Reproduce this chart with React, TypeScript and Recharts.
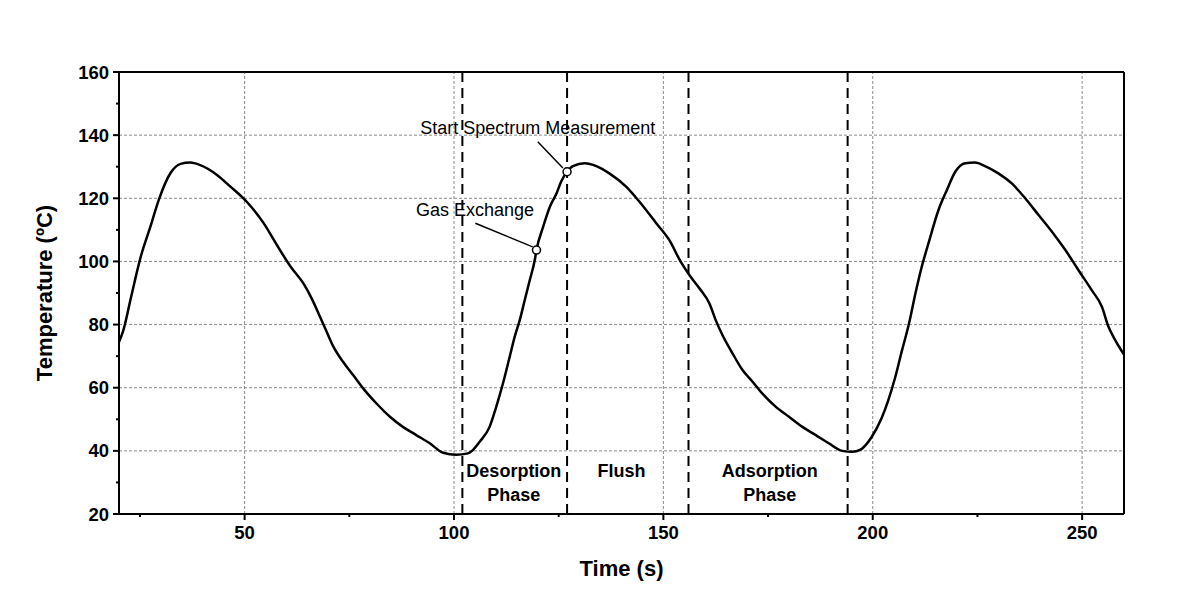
import React from 'react';
import { ComposedChart, Line, XAxis, YAxis, ReferenceLine, ReferenceDot } from 'recharts';

const timeS = [
  20, 21, 22.9, 25.2, 27.5, 29.5, 32.3, 34.7, 37, 39.4, 43.4, 46.6, 50.5, 54.5, 57.7, 61, 64, 66, 68,
  69.6, 71.2, 73.5, 75.9, 78.3, 81.5, 84.7, 87.8, 91, 94.2, 97.4, 100.5, 103.3, 104.3, 106.2, 108.5,
  110.1, 111.7, 113.3, 114.5, 115.7, 116.9, 118.1, 119.3, 119.7, 121.3, 122.9, 124.5, 125.6, 127,
  128.4, 131.2, 134, 137.1, 141.1, 144.3, 148.3, 151.4, 154.1, 156.2, 158.6, 161, 162.5, 164.1, 166.5,
  168.9, 171.3, 173.6, 176.8, 180, 183.2, 186.4, 189.5, 192.7, 195.1, 197.1, 199.7, 202.1, 203.7,
  205.3, 207, 208.6, 210.2, 211.7, 213.3, 215.7, 217.7, 219.7, 222.1, 224.4, 226.8, 230, 233.2,
  236.4, 239.6, 242.8, 246, 249.1, 252.3, 254.7, 256.3, 257.9, 260,
];
const temperatureC = [
  74.5, 78, 88.8, 101.5, 111, 119.5, 128, 130.9, 131.3, 130.5, 127.4, 123.7, 118.9, 112.2, 105.2, 98.3,
  93.1, 88.3, 82.5, 77.7, 73, 68.2, 64, 59.8, 55, 50.8, 47.6, 45, 42.4, 39.4, 38.8, 39.2, 40, 43, 47.6,
  54, 61.4, 69.8, 76.2, 81.4, 87.8, 94.1, 100.5, 103.6, 111, 117.3, 121.6, 125.3, 128.4, 130.2, 131.1,
  130.2, 127.9, 123.7, 118.9, 112.1, 106.8, 100, 95.7, 91.5, 86.7, 81.4, 76.7, 70.9, 65.6, 61.9, 58.2,
  54, 50.8, 47.6, 45, 42.4, 40, 39.7, 40.4, 44.3, 50.3, 56, 63, 71.9, 80, 89.9, 98.3, 105.7, 116.3,
  122.6, 128.4, 131.1, 131.3, 130.2, 127.9, 124.7, 120, 114.7, 109.4, 103.6, 97.3, 90.9, 85.7, 79.3,
  75.1, 70.5,
];

const xTicks = [25, 50, 75, 100, 125, 150, 175, 200, 225, 250];
const xMajorStep = 50;
const yTicks = [20, 30, 40, 50, 60, 70, 80, 90, 100, 110, 120, 130, 140, 150, 160];
const yMajorStep = 20;
const gridX = [50, 100, 150, 200, 250];
const gridY = [40, 60, 80, 100, 120, 140];
const phaseBoundaries = [102, 127, 156, 194];

const markerPoints = [
  { t: 119.7, temp: 103.6 },
  { t: 127, temp: 128.4 },
];
const leaderLines = [
  [{ x: 105.1, y: 112.1 }, { x: 118.8, y: 104.6 }],
  [{ x: 120.0, y: 137.9 }, { x: 126.0, y: 129.6 }],
];
const annotations = [
  { t: 105.0, temp: 116.3, text: 'Gas Exchange', bold: false },
  { t: 120.0, temp: 142.3, text: 'Start Spectrum Measurement', bold: false },
  { t: 114.3, temp: 33.6, text: 'Desorption', bold: true },
  { t: 114.3, temp: 26.0, text: 'Phase', bold: true },
  { t: 140.0, temp: 33.6, text: 'Flush', bold: true },
  { t: 175.4, temp: 33.6, text: 'Adsorption', bold: true },
  { t: 175.4, temp: 26.0, text: 'Phase', bold: true },
];

const data = timeS.map((t, i) => ({ t, temp: temperatureC[i] }));

const FONT = '"Liberation Sans", Arial, sans-serif';

const XTick = (props: any) => {
  const { x, y, payload } = props;
  const major = payload.value % xMajorStep === 0;
  return (
    <g>
      <line x1={x} y1={y} x2={x} y2={y + (major ? 6 : 3)} stroke="#000" strokeWidth={2} />
      {major && (
        <text x={x} y={y + 25} textAnchor="middle" fontFamily={FONT} fontWeight="bold" fontSize={18.5} fill="#000">
          {payload.value}
        </text>
      )}
    </g>
  );
};

const YTick = (props: any) => {
  const { x, y, payload } = props;
  const major = payload.value % yMajorStep === 0;
  return (
    <g>
      <line x1={x} y1={y} x2={x - (major ? 6 : 3)} y2={y} stroke="#000" strokeWidth={2} />
      {major && (
        <text x={x - 10} y={y + 6.5} textAnchor="end" fontFamily={FONT} fontWeight="bold" fontSize={18.5} fill="#000">
          {payload.value}
        </text>
      )}
    </g>
  );
};

export default function App() {
  return (
    <ComposedChart
      width={1175}
      height={600}
      data={data}
      margin={{ top: 64, right: 59, left: 31, bottom: 32 }}
      style={{ fontFamily: FONT }}
    >
      <XAxis
        dataKey="t"
        type="number"
        domain={[20, 260]}
        ticks={xTicks}
        interval={0}
        allowDataOverflow
        tickSize={0}
        tickMargin={0}
        tickLine={false}
        tick={(p: any) => <XTick {...p} />}
        axisLine={{ stroke: '#000', strokeWidth: 2 }}
        height={62}
        label={{
          value: 'Time (s)',
          position: 'insideBottom',
          offset: 0,
          fontFamily: FONT,
          fontWeight: 'bold',
          fontSize: 22,
          fill: '#000',
        }}
      />
      <YAxis
        type="number"
        domain={[20, 160]}
        ticks={yTicks}
        interval={0}
        allowDataOverflow
        tickSize={0}
        tickMargin={0}
        tickLine={false}
        tick={(p: any) => <YTick {...p} />}
        axisLine={{ stroke: '#000', strokeWidth: 2 }}
        width={80}
        label={{
          value: 'Temperature (ºC)',
          angle: -90,
          position: 'insideLeft',
          offset: 5,
          fontFamily: FONT,
          fontWeight: 'bold',
          fontSize: 22,
          fill: '#000',
          style: { textAnchor: 'middle' },
        }}
      />
      {gridY.map((v) => (
        <ReferenceLine key={'gy' + v} y={v} stroke="#8a8a8a" strokeWidth={1} strokeDasharray="3 2" />
      ))}
      {gridX.map((v) => (
        <ReferenceLine key={'gx' + v} x={v} stroke="#8a8a8a" strokeWidth={1} strokeDasharray="3 2" />
      ))}
      <ReferenceLine y={160} stroke="#000" strokeWidth={2} />
      <ReferenceLine x={260} stroke="#000" strokeWidth={2} />
      {phaseBoundaries.map((v) => (
        <ReferenceLine key={'pb' + v} x={v} stroke="#000" strokeWidth={2} strokeDasharray="10 6" />
      ))}
      <Line
        dataKey="temp"
        type="monotone"
        stroke="#000"
        strokeWidth={2.5}
        dot={false}
        activeDot={false}
        isAnimationActive={false}
      />
      {leaderLines.map((seg, i) => (
        <ReferenceLine key={'ll' + i} segment={seg} stroke="#000" strokeWidth={1.5} />
      ))}
      {markerPoints.map((m, i) => (
        <ReferenceDot key={'mk' + i} x={m.t} y={m.temp} r={4} fill="#fff" stroke="#000" strokeWidth={1.5} />
      ))}
      {annotations.map((a, i) => (
        <ReferenceDot
          key={'an' + i}
          x={a.t}
          y={a.temp}
          r={0}
          fill="none"
          stroke="none"
          label={{
            value: a.text,
            position: 'center',
            fontFamily: FONT,
            fontSize: 18,
            fontWeight: a.bold ? 'bold' : 'normal',
            fill: '#000',
          }}
        />
      ))}
    </ComposedChart>
  );
}
